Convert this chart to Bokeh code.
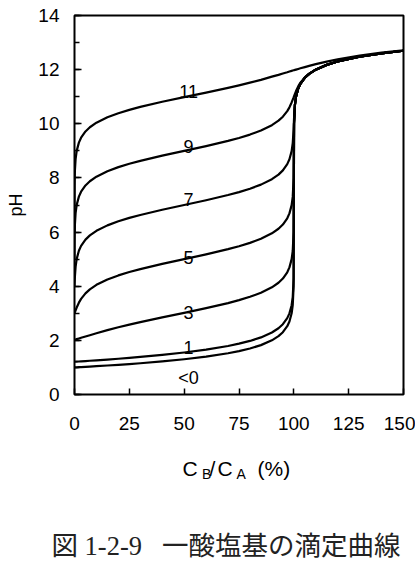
from bokeh.plotting import figure
from bokeh.layouts import column
from bokeh.models import Range1d, FixedTicker, SingleIntervalTicker, Title
from bokeh.core.properties import value
from bokeh.embed import file_html
from bokeh.resources import INLINE

# C_B / C_A (%)
x_pct = [0, 0.01, 0.05, 0.1, 0.2, 0.5, 1, 2, 3, 5, 7, 10, 15, 20, 25, 30, 40, 50,
         60, 70, 75, 80, 85, 90, 93, 95, 97, 98, 99, 99.5, 99.9, 100, 100.1, 100.5,
         101, 102, 103, 105, 107, 110, 115, 120, 130, 140, 150]

# pH curves, one per pKa of the acid
ph_strong = [1.000, 1.000, 1.000, 1.000, 1.001, 1.002, 1.004, 1.009, 1.013, 1.022,
             1.032, 1.046, 1.071, 1.097, 1.125, 1.155, 1.222, 1.301, 1.398, 1.523,
             1.602, 1.699, 1.824, 2.000, 2.155, 2.301, 2.523, 2.699, 3.000, 3.301,
             4.000, 7.000, 10.000, 10.699, 11.000, 11.301, 11.477, 11.699, 11.845,
             12.000, 12.176, 12.301, 12.477, 12.602, 12.699]
ph_pka1 = [1.209, 1.209, 1.209, 1.210, 1.210, 1.212, 1.214, 1.219, 1.224, 1.235,
           1.246, 1.262, 1.291, 1.321, 1.354, 1.388, 1.463, 1.552, 1.658, 1.793,
           1.877, 1.979, 2.109, 2.290, 2.448, 2.597, 2.821, 2.996, 3.298, 3.600,
           4.300, 7.000, 10.000, 10.699, 11.000, 11.301, 11.477, 11.699, 11.845,
           12.000, 12.176, 12.301, 12.477, 12.602, 12.699]
ph_pka3 = [2.022, 2.022, 2.023, 2.024, 2.027, 2.034, 2.046, 2.070, 2.094, 2.143,
           2.191, 2.262, 2.376, 2.482, 2.582, 2.675, 2.849, 3.017, 3.188, 3.377,
           3.485, 3.609, 3.759, 3.960, 4.128, 4.284, 4.514, 4.695, 5.000, 5.300,
           6.000, 8.000, 10.000, 10.699, 11.000, 11.301, 11.477, 11.699, 11.845,
           12.000, 12.176, 12.301, 12.477, 12.602, 12.699]
ph_pka5 = [3.002, 3.004, 3.013, 3.024, 3.046, 3.111, 3.214, 3.392, 3.532, 3.737,
           3.885, 4.050, 4.249, 4.399, 4.524, 4.632, 4.824, 5.000, 5.176, 5.368,
           5.477, 5.602, 5.753, 5.954, 6.123, 6.279, 6.510, 6.690, 6.996, 7.300,
           8.000, 9.000, 10.004, 10.700, 11.000, 11.301, 11.477, 11.699, 11.845,
           12.000, 12.176, 12.301, 12.477, 12.602, 12.699]
ph_pka7 = [4.000, 4.022, 4.107, 4.209, 4.384, 4.717, 5.009, 5.311, 5.490, 5.721,
           5.877, 6.046, 6.247, 6.398, 6.523, 6.632, 6.824, 7.000, 7.176, 7.368,
           7.477, 7.602, 7.753, 7.954, 8.123, 8.279, 8.510, 8.690, 8.991, 9.280,
           9.790, 10.000, 10.209, 10.715, 11.004, 11.302, 11.478, 11.700, 11.845,
           12.000, 12.176, 12.301, 12.477, 12.602, 12.699]
ph_pka9 = [5.000, 5.209, 5.715, 6.004, 6.300, 6.700, 7.004, 7.310, 7.490, 7.721,
           7.877, 8.046, 8.247, 8.398, 8.523, 8.632, 8.824, 9.000, 9.176, 9.368,
           9.476, 9.601, 9.751, 9.950, 10.115, 10.262, 10.468, 10.608, 10.788, 10.892,
           10.974, 10.998, 11.022, 11.107, 11.209, 11.383, 11.519, 11.715, 11.854,
           12.004, 12.178, 12.302, 12.478, 12.602, 12.699]
ph_pka11 = [6.000, 7.004, 7.703, 8.004, 8.298, 8.697, 9.000, 9.305, 9.486, 9.717,
            9.872, 10.040, 10.241, 10.391, 10.515, 10.623, 10.812, 10.983, 11.151, 11.325,
            11.419, 11.518, 11.624, 11.740, 11.806, 11.857, 11.904, 11.931, 11.954, 11.966,
            11.976, 11.978, 11.980, 11.990, 12.002, 12.026, 12.049, 12.095, 12.139,
            12.202, 12.297, 12.380, 12.518, 12.626, 12.715]

curve_labels = ["11", "9", "7", "5", "3", "1", "<0"]
label_x = [52, 52, 52, 52, 52, 52, 52]
label_ph = [11.18, 9.17, 7.20, 5.06, 3.03, 1.72, 0.62]

x_ticks = [0, 25, 50, 75, 100, 125, 150]

# x-axis title pieces (C_B/C_A (%)) and caption
title_big = ["C", "/", "C", "(%)"]
title_sub = ["B", "A"]
caption_text = "図 1-2-9\u2002 一酸塩基の滴定曲線"

FONT = "Liberation Sans"

p = figure(width=415, height=440, output_backend="svg", toolbar_location=None,
           x_range=Range1d(0, 150), y_range=Range1d(0, 14),
           min_border_left=74, min_border_right=12, min_border_top=15,
           min_border_bottom=46)
p.background_fill_color = "white"
p.border_fill_color = "white"
p.outline_line_color = "black"
p.outline_line_width = 2
p.grid.visible = False

for ys in [ph_strong, ph_pka1, ph_pka3, ph_pka5, ph_pka7, ph_pka9, ph_pka11]:
    p.line(x_pct, ys, line_width=2.2, color="black", line_join="round")

p.text(x=label_x, y=label_ph, text=curve_labels, text_font=value(FONT),
       text_font_size="18px", text_align="center", text_baseline="alphabetic",
       text_color="black")

xa = p.xaxis[0]
xa.ticker = FixedTicker(ticks=x_ticks)
xa.axis_line_color = None
xa.major_tick_in = 6
xa.major_tick_out = 0
xa.major_tick_line_width = 1.5
xa.minor_tick_line_color = None
xa.major_label_text_font = FONT
xa.major_label_text_font_size = "19px"
xa.major_label_text_color = "black"
xa.major_label_standoff = 22

ya = p.yaxis[0]
ya.ticker = SingleIntervalTicker(interval=2, num_minor_ticks=2)
ya.axis_line_color = None
ya.major_tick_in = 7
ya.major_tick_out = 0
ya.minor_tick_in = 5
ya.minor_tick_out = 0
ya.major_tick_line_width = 1.5
ya.minor_tick_line_width = 1.5
ya.major_label_text_font = FONT
ya.major_label_text_font_size = "19px"
ya.major_label_text_color = "black"
ya.major_label_standoff = 15
ya.axis_label = "pH"
ya.axis_label_text_font = FONT
ya.axis_label_text_font_size = "18px"
ya.axis_label_text_font_style = "normal"
ya.axis_label_text_color = "black"
ya.axis_label_standoff = 9

# lower strip: frame spans page x 74..403 and page y 440..528 (data = page pixels)
q = figure(width=415, height=130, output_backend="svg", toolbar_location=None,
           x_range=Range1d(74, 403), y_range=Range1d(528, 440),
           x_axis_location=None, y_axis_location=None,
           min_border_left=74, min_border_right=12, min_border_top=0,
           min_border_bottom=42)
q.outline_line_color = None
q.grid.visible = False
q.background_fill_color = "white"
q.border_fill_color = "white"

q.text(x=[182, 209, 217, 257], y=[468, 468, 468, 468], text=title_big,
       text_font=value(FONT), text_font_size="21px", text_align="left",
       text_baseline="alphabetic", text_color="black")
q.text(x=[201.5, 236], y=[473, 473], text=title_sub,
       text_font=value(FONT), text_font_size="14px", text_align="left",
       text_baseline="alphabetic", text_color="black")

q.add_layout(Title(text=caption_text, align="left", offset=-23, standoff=0,
                   text_font="Liberation Serif, Noto Sans CJK JP", text_font_size="26.5px",
                   text_font_style="normal", text_color="#222222"), "below")

layout = column(p, q, spacing=0)
open("out.html", "w").write(file_html(layout, INLINE))
